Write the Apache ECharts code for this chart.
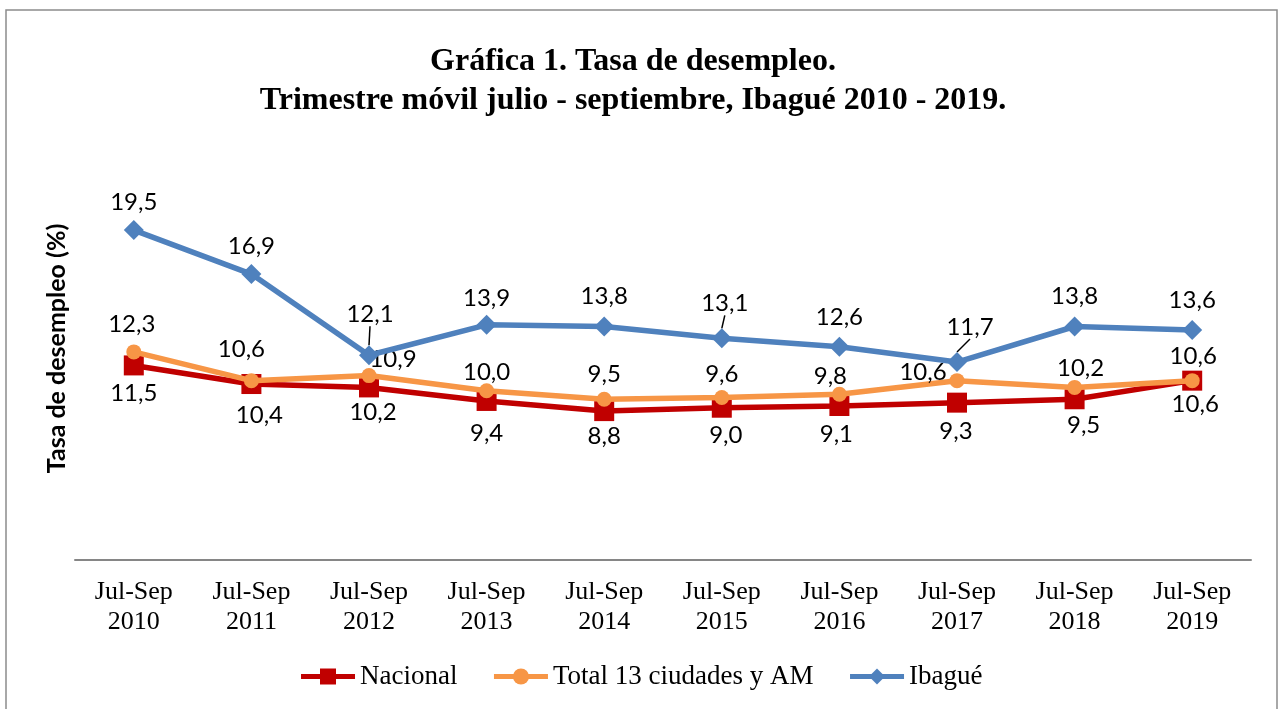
<!DOCTYPE html>
<html>
<head>
<meta charset="utf-8">
<script src="https://cdn.jsdelivr.net/npm/echarts@6/dist/echarts.min.js"></script>
<style>
  html, body { margin: 0; padding: 0; background: #fff; }
  #chart { width: 1281px; height: 709px; }
</style>
</head>
<body>
<div id="chart"></div>
<script>
// datos
var categorias = ["Jul-Sep\n2010", "Jul-Sep\n2011", "Jul-Sep\n2012", "Jul-Sep\n2013", "Jul-Sep\n2014",
  "Jul-Sep\n2015", "Jul-Sep\n2016", "Jul-Sep\n2017", "Jul-Sep\n2018", "Jul-Sep\n2019"];
var nacional = [11.5, 10.4, 10.2, 9.4, 8.8, 9.0, 9.1, 9.3, 9.5, 10.6];
var total13 = [12.3, 10.6, 10.9, 10.0, 9.5, 9.6, 9.8, 10.6, 10.2, 10.6];
var ibague = [19.5, 16.9, 12.1, 13.9, 13.8, 13.1, 12.6, 11.7, 13.8, 13.6];

// desplazamiento de etiquetas [dx, dy] por punto (como en la grafica original)
var offNacional = [[0, 1], [8, 4], [4, -2], [0, 5], [0, -2], [4, 1], [-3, 1], [-1, 2], [9, -1], [3, -3]];
var offTotal = [[-2, 0], [-10, -4], [24, 11], [0, 9], [0, 3], [0, 4], [-9, 10], [-34, 19], [6, 8], [1, 3]];
var offIbague = [[0, 1], [0, 1], [1, -12], [0, 2], [0, -1], [3, -6], [0, -1], [13, -6], [0, -1], [0, -1]];
var conLinea = [2, 5, 7]; // puntos de Ibagué con línea guía

function fmt(p) {
  return p.value.toFixed(1).replace('.', ',');
}
function items(vals, offs) {
  return vals.map(function (v, i) {
    return { value: v, label: { offset: offs[i] } };
  });
}

var labelFont = { fontFamily: "Lato", fontSize: 24, lineHeight: 24, color: "#000" };

var chart = echarts.init(document.getElementById("chart"));
chart.setOption({
  animation: false,
  title: {
    text: "Gráfica 1. Tasa de desempleo.\nTrimestre móvil julio - septiembre, Ibagué 2010 - 2019.",
    left: 628,
    textAlign: "center",
    top: 37,
    textStyle: {
      fontFamily: "Liberation Serif",
      fontWeight: "bold",
      fontSize: 32,
      lineHeight: 39,
      color: "#000"
    }
  },
  graphic: [{
    type: "rect",
    shape: { x: 6, y: 10, width: 1271, height: 720 },
    style: { fill: null, stroke: "#8c8c8c", lineWidth: 1.5 },
    silent: true
  }],
  legend: {
    bottom: 14,
    left: "center",
    itemWidth: 54,
    itemHeight: 20,
    itemGap: 34,
    lineStyle: { width: 5 },
    textStyle: { fontFamily: "Liberation Serif", fontSize: 27, color: "#000" },
    data: ["Nacional", "Total 13 ciudades y AM", "Ibagué"]
  },
  grid: { left: 75, right: 30, top: 137, bottom: 149 },
  xAxis: {
    type: "category",
    data: categorias,
    axisLine: { lineStyle: { color: "#868686", width: 2 } },
    axisTick: { show: false },
    axisLabel: {
      margin: 17,
      fontFamily: "Liberation Serif",
      fontSize: 26,
      lineHeight: 30,
      color: "#000"
    }
  },
  yAxis: {
    type: "value",
    min: 0,
    max: 25,
    name: "Tasa de desempleo (%)",
    nameLocation: "middle",
    nameGap: 6,
    nameTextStyle: { fontFamily: "Lato", fontWeight: "bold", fontSize: 25, color: "#000" },
    axisLine: { show: false },
    axisTick: { show: false },
    axisLabel: { show: false },
    splitLine: { show: false }
  },
  series: [
    {
      name: "Nacional",
      type: "line",
      data: items(nacional, offNacional),
      symbol: "rect",
      symbolSize: 20,
      lineStyle: { color: "#C00000", width: 5.5 },
      itemStyle: { color: "#C00000" },
      label: Object.assign({ show: true, position: "bottom", distance: 5, formatter: fmt }, labelFont),
      z: 2
    },
    {
      name: "Total 13 ciudades y AM",
      type: "line",
      data: items(total13, offTotal),
      symbol: "circle",
      symbolSize: 15,
      lineStyle: { color: "#F79646", width: 5.5 },
      itemStyle: { color: "#F79646" },
      label: Object.assign({ show: true, position: "top", distance: 8, formatter: fmt }, labelFont),
      z: 3
    },
    {
      name: "Ibagué",
      type: "line",
      data: ibague.map(function (v, i) {
        return {
          value: v,
          labelLine: { show: conLinea.indexOf(i) >= 0 }
        };
      }),
      symbol: "diamond",
      symbolSize: 20,
      lineStyle: { color: "#4F81BD", width: 5.5 },
      itemStyle: { color: "#4F81BD" },
      label: Object.assign({ show: true, position: "top", distance: 7, formatter: fmt }, labelFont),
      labelLayout: function (p) {
        var o = offIbague[p.dataIndex];
        return { dx: o[0], dy: o[1] };
      },
      labelLine: { show: false, lineStyle: { color: "#000", width: 1.5 } },
      z: 4
    }
  ]
});
</script>
</body>
</html>
